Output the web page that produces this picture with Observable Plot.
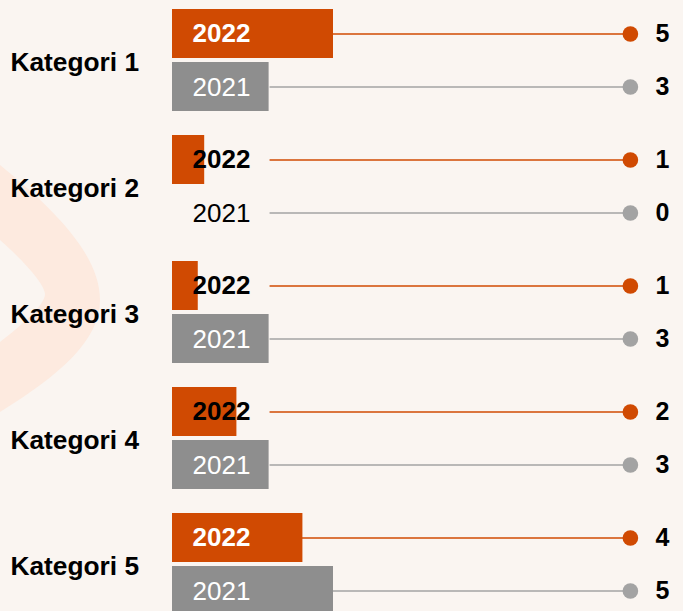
<!DOCTYPE html>
<html><head><meta charset="utf-8">
<script src="https://cdn.jsdelivr.net/npm/d3@7"></script>
<script src="https://cdn.jsdelivr.net/npm/@observablehq/plot@0.6"></script>
<style>
html,body{margin:0;padding:0;background:#FAF5F1;}
#chart{position:relative;width:683px;height:611px;overflow:hidden;}
</style></head><body><div id="chart"></div>
<script>
const categories = ["Kategori 1","Kategori 2","Kategori 3","Kategori 4","Kategori 5"];
const years = ["2022","2021"];
const values2022 = [5, 1, 0.8, 2, 4.05];
const values2021 = [3, 0, 3, 3, 5];

const orange = "#D04A02";
const barGray = "#8E8E8E";
const lineGray = "#A3A3A3";
const lineStart = 3.03;   // connector starts just after the year label (data units)
const trackEnd = 14.22;   // connector end / dot position (data units)

const data = categories.flatMap((c, i) => [
  {cat: c, year: "2022", value: values2022[i]},
  {cat: c, year: "2021", value: values2021[i]}
]);
const d22 = data.filter(d => d.year === "2022");
const d21 = data.filter(d => d.year === "2021");

const font = "'Liberation Sans', Arial, sans-serif";

const chart = Plot.plot({
  width: 683, height: 611,
  marginTop: 0, marginBottom: 0, marginLeft: 0, marginRight: 53,
  style: {background: "transparent", fontFamily: font, overflow: "visible"},
  x: {domain: [0, 5], range: [172, 333], axis: null},
  y: {domain: years, paddingInner: 0.074, paddingOuter: 0, axis: null},
  fy: {domain: categories, range: [8, 616.5], paddingInner: 0.175, paddingOuter: 0, axis: null},
  color: {type: "identity"},
  marks: [
    Plot.ruleY(data, {fy: "cat", y: "year", x1: lineStart, x2: trackEnd, stroke: d => d.year === "2022" ? orange : lineGray, strokeWidth: 1.6}),
    Plot.barX(data, {fy: "cat", y: "year", x: "value", fill: d => d.year === "2022" ? orange : barGray}),
    Plot.dot(data, {fy: "cat", y: "year", x: () => trackEnd, r: 7.8, fill: d => d.year === "2022" ? orange : lineGray, stroke: "none"}),
    Plot.text(data, {fy: "cat", y: "year", x: () => trackEnd, dx: 25, textAnchor: "start", text: d => String(Math.round(d.value)), fill: "black", fontWeight: "bold", fontSize: 25}),
    Plot.text(d22, {fy: "cat", y: "year", x: 0, dx: 20, textAnchor: "start", text: "year", fill: d => d.value >= 2.5 ? "white" : "black", fontWeight: "bold", fontSize: 26}),
    Plot.text(d21, {fy: "cat", y: "year", x: 0, dx: 20, dy: 1, textAnchor: "start", text: "year", fill: d => d.value >= 2.5 ? "white" : "black", fontSize: 26}),
    Plot.text(categories, {fy: d => d, frameAnchor: "left", dx: 10, dy: 2, textAnchor: "start", text: d => d, fill: "black", fontWeight: "bold", fontSize: 26.3})
  ]
});

// decorative background arc
const svg = d3.select(chart);
svg.insert("path", ":first-child")
  .attr("d", "M0,165 C55,210 100,255 100,300 C100,340 60,375 0,412 L0,342 C22,325 45,305 45,294 C45,285 25,262 0,240 Z")
  .attr("fill", "#FDEADF");

document.getElementById("chart").appendChild(chart);
</script>
</body></html>
